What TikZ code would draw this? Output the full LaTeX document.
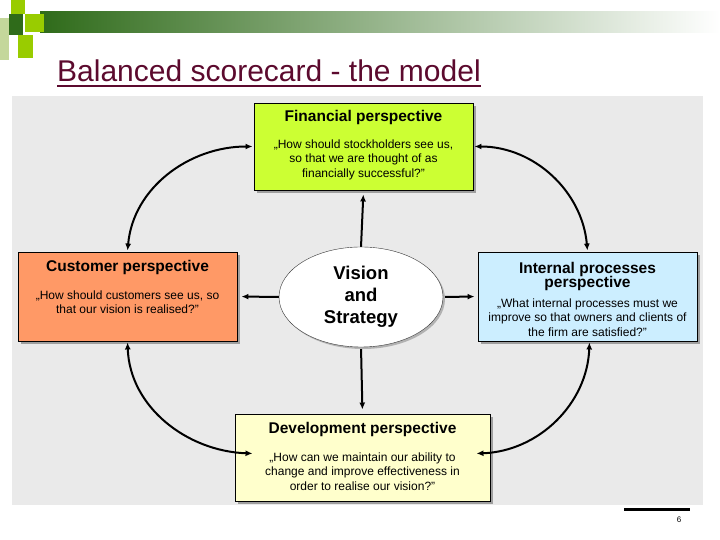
\documentclass[tikz,border=0pt]{standalone}
\usepackage{fontspec}
\setmainfont{Liberation Sans}
\usetikzlibrary{positioning,shapes.geometric,shadows,arrows.meta}
\definecolor{finlime}{HTML}{CCFF33}
\definecolor{cussalmon}{HTML}{FF9966}
\definecolor{intblue}{HTML}{CCEEFF}
\definecolor{devyellow}{HTML}{FFFFCC}
\definecolor{panelgray}{HTML}{EAEAEA}
\definecolor{titlemaroon}{HTML}{5C0A2E}
\definecolor{bandgreen}{HTML}{2F6B1A}
\definecolor{bandmid}{HTML}{98AC8C}
\definecolor{sqlime}{HTML}{99CC00}
\definecolor{sqpale}{HTML}{C4D79B}

\begin{document}
\begin{tikzpicture}[x=1pt,y=1pt,
    card/.style={draw=black, line width=0.9pt,
                 drop shadow={shadow xshift=3pt, shadow yshift=-3pt, fill=gray!75, opacity=1}},
    cardtitle/.style={font=\fontsize{15.5}{14.5}\selectfont\bfseries, align=center, inner sep=1pt},
    cardtext/.style={font=\fontsize{12}{14.5}\selectfont, align=center, inner sep=1pt},
    link/.style={{Latex[length=7pt,width=6pt]}-{Latex[length=7pt,width=6pt]}, line width=2pt},
    spoke/.style={-{Latex[length=7pt,width=6pt]}, line width=2pt}]
  \useasboundingbox (0,0) rectangle (720,540);
  \fill[white] (0,0) rectangle (720,540);

  % header band
  \shade[left color=bandgreen, middle color=bandmid, right color=white] (40,507) rectangle (720,528);
  \fill[sqpale] (0,480) rectangle (9,522);
  \fill[sqlime] (11,526) rectangle (25,540);
  \fill[bandgreen] (9,505) rectangle (23,526);
  \fill[sqlime] (25,508) rectangle (44,526);
  \fill[sqlime] (18,482) rectangle (33,505);

  % title
  \node[anchor=base west, text=titlemaroon, font=\fontsize{30}{31}\selectfont, inner sep=0] (title) at (57,458)
       {Balanced scorecard - the model};
  \draw[titlemaroon, line width=2pt] ([yshift=-4pt]title.base west) -- ([yshift=-4pt]title.base east);

  % panel
  \fill[panelgray] (12,35) rectangle (703,444);

  % perspectives
  \node[card, fill=finlime, minimum width=219, minimum height=87] (fin) at (363.5,393.5) {};
  \node[cardtitle, below=6.5pt of fin.north] (fintitle) {Financial perspective};
  \node[cardtext, below=12.5pt of fintitle] (finbody)
       {„How should stockholders see us,\\ so that we are thought of as\\ financially successful?"};

  \node[card, fill=cussalmon, minimum width=219, minimum height=89] (cus) at (127.5,243.5) {};
  \node[cardtitle, below=8pt of cus.north] (custitle) {Customer perspective};
  \node[cardtext, below=13pt of custitle] (cusbody)
       {„How should customers see us, so\\ that our vision is realised?"};

  \node[card, fill=intblue, minimum width=219, minimum height=89] (int) at (587.5,243.5) {};
  \node[cardtitle, below=9.5pt of int.north] (inttitle) {Internal processes\\ perspective};
  \node[cardtext, below=5pt of inttitle] (intbody)
       {„What internal processes must we\\ improve so that owners and clients of\\ the firm are satisfied?"};

  \node[card, fill=devyellow, minimum width=255, minimum height=87] (dev) at (362.5,82.5) {};
  \node[cardtitle, below=8pt of dev.north] (devtitle) {Development perspective};
  \node[cardtext, below=13pt of devtitle] (devbody)
       {„How can we maintain our ability to\\ change and improve effectiveness in\\ order to realise our vision?"};

  % spokes from the centre
  \draw[spoke, shorten >=4pt] (361,293) -- (fin.south);
  \draw[spoke, shorten >=4pt] (361,193) -- (dev.north);
  \draw[spoke, shorten >=4pt] (280,243) -- (cus.east);
  \draw[spoke, shorten >=3pt] (442,243) -- (int.west);

  \node[ellipse, draw=black!80, fill=white, inner sep=0pt, minimum width=164, minimum height=100,
        drop shadow={shadow xshift=2pt, shadow yshift=-2pt, fill=gray!60, opacity=1},
        font=\fontsize{18.5}{22}\selectfont\bfseries, align=center] (vis) at (361,243) {Vision\\ and\\ Strategy};

  % cycle
  \coordinate (devleft) at ([xshift=18pt,yshift=4pt]dev.west);
  \coordinate (devright) at ([xshift=-14pt,yshift=4pt]dev.east);
  \draw[link, shorten <=1pt, shorten >=1pt] (fin.west) to[out=180,in=85] (cus.north);
  \draw[link, shorten <=1pt, shorten >=1pt] (fin.east) to[out=0,in=95] (int.north);
  \draw[link, shorten <=1pt] (cus.south) to[out=-88,in=178] (devleft);
  \draw[link, shorten <=1pt] ([xshift=2pt]int.south) to[out=-92,in=2] (devright);

  % page number
  \draw[line width=3pt] (624,30) -- (690,30);
  \node[font=\fontsize{8}{9}\selectfont, inner sep=0] (pagenum) at (679,20) {6};
\end{tikzpicture}
\end{document}
